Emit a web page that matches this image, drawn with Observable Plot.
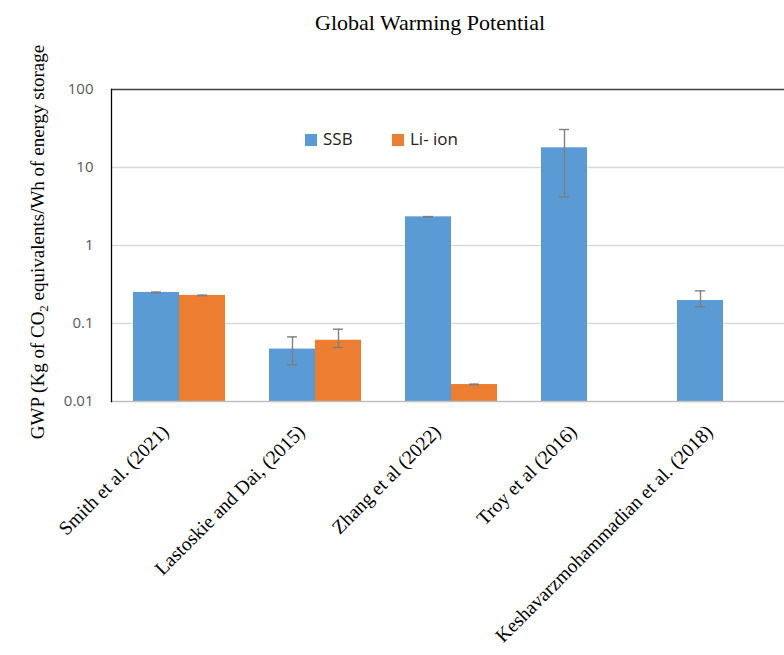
<!DOCTYPE html>
<html>
<head>
<meta charset="utf-8">
<script src="https://cdn.jsdelivr.net/npm/d3@7"></script>
<script src="https://cdn.jsdelivr.net/npm/@observablehq/plot@0.6"></script>
<style>
  body { margin: 0; background: #fff; }
  #wrap { position: relative; width: 784px; height: 655px; overflow: hidden; }
  #chart { position: absolute; left: 0; top: 0; }
  .title { position: absolute; left: 430px; top: 11px; transform: translateX(-50%); font: 22px "Liberation Serif", serif; color: #000; white-space: nowrap; line-height: 24px; }
  .ylab { position: absolute; left: 38px; top: 242px; transform: translate(-50%, -50%) rotate(-90deg); font: 19px "Liberation Serif", serif; color: #000; white-space: nowrap; line-height: 22px; }
  .ylab sub { font-size: 13px; vertical-align: -4px; line-height: 0; }
  .leg { position: absolute; top: 128px; font: 17px "Open Sans", sans-serif; color: #222; line-height: 22px; white-space: nowrap; }
  .leg span.sw { display: inline-block; width: 12px; height: 12px; margin-right: 6px; vertical-align: -1px; }
</style>
</head>
<body>
<div id="wrap">
  <div id="chart"></div>
  <div class="title">Global Warming Potential</div>
  <div class="ylab">GWP (Kg of CO<sub>2</sub> equivalents/Wh of energy storage</div>
  <div class="leg" style="left:305px"><span class="sw" style="background:#5B9BD5"></span>SSB</div>
  <div class="leg" style="left:392px"><span class="sw" style="background:#ED7D31"></span>Li- ion</div>
</div>
<script>
const studies = ["Smith et al. (2021)", "Lastoskie and Dai, (2015)", "Zhang et al (2022)", "Troy et al (2016)", "Keshavarzmohammadian et al. (2018)"];
const seriesNames = ["SSB", "Li- ion"];
const ssb     = [0.25,  0.047,  2.33,   17.9, 0.197];
const ssbLow  = [0.247, 0.0295, 2.31,   4.2,  0.164];
const ssbHigh = [0.253, 0.0674, 2.35,   30.7, 0.262];
const li      = [0.229, 0.061,  0.0165, null, null];
const liLow   = [0.227, 0.0492, 0.0164, null, null];
const liHigh  = [0.231, 0.0845, 0.0167, null, null];
const yTicks = [0.01, 0.1, 1, 10, 100];
const yTickLabels = ["0.01", "0.1", "1", "10", "100"];
const colors = ["#5B9BD5", "#ED7D31"];

const rows = [];
studies.forEach((s, i) => {
  rows.push({study: s, series: seriesNames[0], value: ssb[i], lo: ssbLow[i], hi: ssbHigh[i]});
  if (li[i] != null) rows.push({study: s, series: seriesNames[1], value: li[i], lo: liLow[i], hi: liHigh[i]});
});
const base = yTicks[0];

const plot = Plot.plot({
  width: 784,
  height: 655,
  marginTop: 89,
  marginBottom: 254,
  marginLeft: 111,
  marginRight: -7,
  style: {background: "transparent"},
  fx: {domain: studies, padding: 0, label: null},
  x: {domain: seriesNames, paddingInner: 0, paddingOuter: 0.478, axis: null},
  y: {type: "log", domain: [yTicks[0], yTicks[yTicks.length - 1]]},
  color: {domain: seriesNames, range: colors},
  marks: [
    Plot.ruleY(yTicks.slice(1, -1), {stroke: "#d9d9d9", strokeWidth: 1.3}),
    Plot.ruleY([yTicks[yTicks.length - 1]], {stroke: "#404040", strokeWidth: 1.6}),
    Plot.barY(rows, {fx: "study", x: "series", y1: () => base, y2: "value", fill: "series"}),
    Plot.ruleY([yTicks[0]], {stroke: "#bfbfbf", strokeWidth: 1.3}),
    Plot.ruleX(rows, {fx: "study", x: "series", y1: "lo", y2: "hi", stroke: "#7f7f7f", strokeWidth: 1.4}),
    Plot.tickY(rows, {fx: "study", x: "series", y: "lo", stroke: "#7f7f7f", strokeWidth: 1.4, insetLeft: 18, insetRight: 18}),
    Plot.tickY(rows, {fx: "study", x: "series", y: "hi", stroke: "#7f7f7f", strokeWidth: 1.4, insetLeft: 18, insetRight: 18}),
    Plot.axisY({ticks: yTicks, tickFormat: (d) => yTickLabels[yTicks.indexOf(d)], tickSize: 0, tickPadding: 18, fill: "#595959", fontSize: 15, fontFamily: "Open Sans, sans-serif", label: null}),
    Plot.axisFx({anchor: "bottom", tickRotate: -45, tickSize: 0, tickPadding: 10, dx: -14, dy: 17, fontSize: 19.5, fontFamily: "Liberation Serif, serif", fill: "#000", label: null}),
    Plot.frame({anchor: "left", facetAnchor: "left", stroke: "#000", strokeWidth: 1.3})
  ]
});
document.getElementById("chart").appendChild(plot);
</script>
</body>
</html>
